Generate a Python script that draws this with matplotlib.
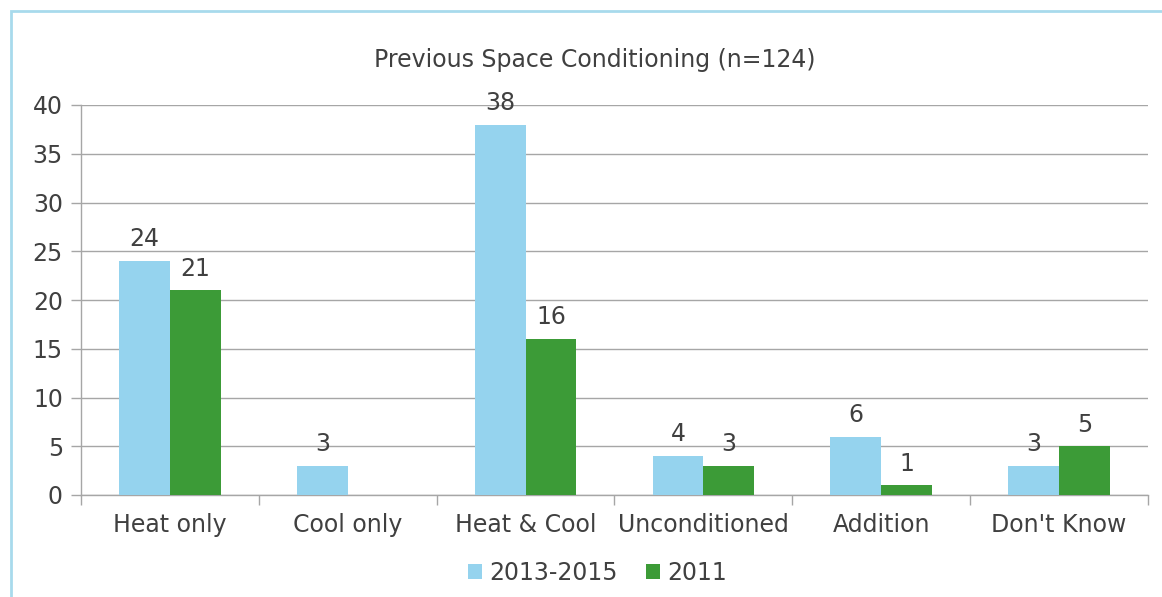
import numpy as np
import matplotlib.pyplot as plt
from matplotlib.patches import Rectangle

# datos del grafico
categorias = ["Heat only", "Cool only", "Heat & Cool", "Unconditioned", "Addition", "Don't Know"]
serie_2013 = [24, 3, 38, 4, 6, 3]
serie_2011 = [21, None, 16, 3, 1, 5]
etiquetas = ["2013-2015", "2011"]

azul = '#95D3EE'
verde = '#3C9B37'
gris = '#A6A6A6'
texto = '#404040'
fs = 17

plt.rcParams['font.family'] = 'DejaVu Sans'

fig = plt.figure(figsize=(11.62, 5.97), dpi=100)
ax = fig.add_axes([81 / 1162, 1 - 495 / 597, (1148 - 81) / 1162, 390 / 597])

x = np.arange(len(categorias))
w = 0.286

v11 = [v if v is not None else 0 for v in serie_2011]
b1 = ax.bar(x - w / 2, serie_2013, w, color=azul, label=etiquetas[0], zorder=3)
b2 = ax.bar(x + w / 2, v11, w, color=verde, label=etiquetas[1], zorder=3)

for rect, v in zip(b1, serie_2013):
    ax.annotate(str(v), (rect.get_x() + rect.get_width() / 2, v), xytext=(0, 7),
                textcoords='offset points', ha='center', va='bottom', fontsize=fs, color=texto)
for rect, v in zip(b2, serie_2011):
    if v is None:
        continue
    ax.annotate(str(v), (rect.get_x() + rect.get_width() / 2, v), xytext=(0, 7),
                textcoords='offset points', ha='center', va='bottom', fontsize=fs, color=texto)

ax.set_xlim(-0.5, len(categorias) - 0.5)
ax.set_ylim(0, 40)
ax.set_yticks(np.arange(0, 41, 5))
ax.yaxis.grid(True, color=gris, linewidth=1, zorder=0)
ax.set_axisbelow(True)

ax.set_xticks(x)
ax.set_xticklabels(categorias)
ax.set_xticks(np.arange(-0.5, len(categorias)), minor=True)
ax.tick_params(axis='x', which='major', length=0, pad=13, labelsize=fs, labelcolor=texto)
ax.tick_params(axis='x', which='minor', length=7, color=gris, width=1)
ax.tick_params(axis='y', length=7, color=gris, width=1, labelsize=fs, labelcolor=texto, pad=6)

for s in ['top', 'right']:
    ax.spines[s].set_visible(False)
for s in ['left', 'bottom']:
    ax.spines[s].set_color(gris)
    ax.spines[s].set_linewidth(1)

fig.text(0.512, 1 - 60 / 597, "Previous Space Conditioning (n=124)", ha='center', va='center',
         fontsize=fs, color=texto)

fig.legend(handles=[b1, b2], labels=etiquetas, loc='center', bbox_to_anchor=(0.514, 1 - 573 / 597),
           ncol=2, frameon=False, fontsize=fs, handlelength=0.6, handleheight=0.6,
           handletextpad=0.3, columnspacing=1.2, labelcolor=texto)

# borde azul claro
fig.patches.append(Rectangle((11 / 1162, -0.1), 1.2, 1 - 11 / 597 + 0.1, transform=fig.transFigure,
                             fill=False, edgecolor='#A8DAEC', linewidth=2))

fig.savefig('out.png', dpi=100, facecolor='white')
